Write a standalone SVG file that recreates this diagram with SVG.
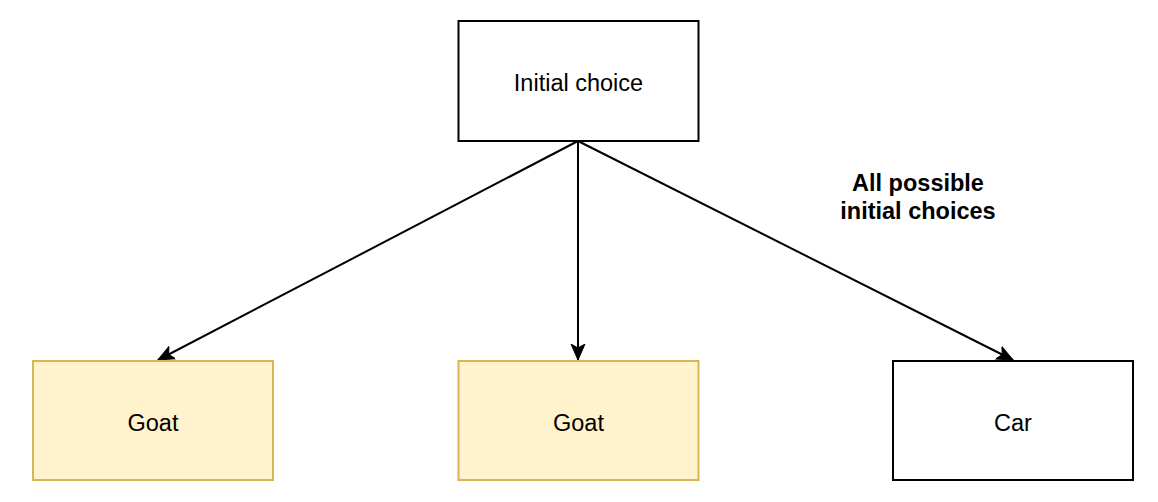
<svg xmlns="http://www.w3.org/2000/svg" width="1158" height="502" viewBox="0 0 1158 502">
<style>
.box{fill:#ffffff;stroke:#000000;stroke-width:2}
.goat{fill:#fff2cc;stroke:#d6b656;stroke-width:2}
.lbl{font-family:"Liberation Sans",Arial,sans-serif;font-size:23.5px;fill:#000;text-anchor:middle}
.bold{font-weight:bold}
.edge{stroke:#000;stroke-width:2;fill:none}
</style>
<defs>
<marker id="arr" markerUnits="userSpaceOnUse" markerWidth="18" markerHeight="18" viewBox="0 0 18 18" refX="16" refY="9" orient="auto">
<path d="M0,2 L16,9 L0,16 L4,9 Z" fill="#000" stroke="#000" stroke-width="1"/>
</marker>
</defs>
<rect width="1158" height="502" fill="#ffffff"/>
<g id="connectors">
<line class="edge" x1="578" y1="141" x2="158" y2="360" marker-end="url(#arr)"/>
<line class="edge" x1="578" y1="141" x2="578" y2="360" marker-end="url(#arr)"/>
<line class="edge" x1="578" y1="141" x2="1013" y2="360" marker-end="url(#arr)"/>
</g>
<g id="initial">
<rect class="box" x="458.5" y="21" width="240" height="120"/>
<text class="lbl" x="578.5" y="91">Initial choice</text>
</g>
<g id="goat1">
<rect class="goat" x="33" y="361" width="240" height="119"/>
<text class="lbl" x="153" y="431">Goat</text>
</g>
<g id="goat2">
<rect class="goat" x="458.5" y="361" width="240" height="119"/>
<text class="lbl" x="578.5" y="431">Goat</text>
</g>
<g id="car">
<rect class="box" x="893" y="361" width="240" height="119"/>
<text class="lbl" x="1013" y="431">Car</text>
</g>
<g id="label">
<text class="lbl bold" x="918" y="191">All possible</text>
<text class="lbl bold" x="918" y="219">initial choices</text>
</g>
</svg>
